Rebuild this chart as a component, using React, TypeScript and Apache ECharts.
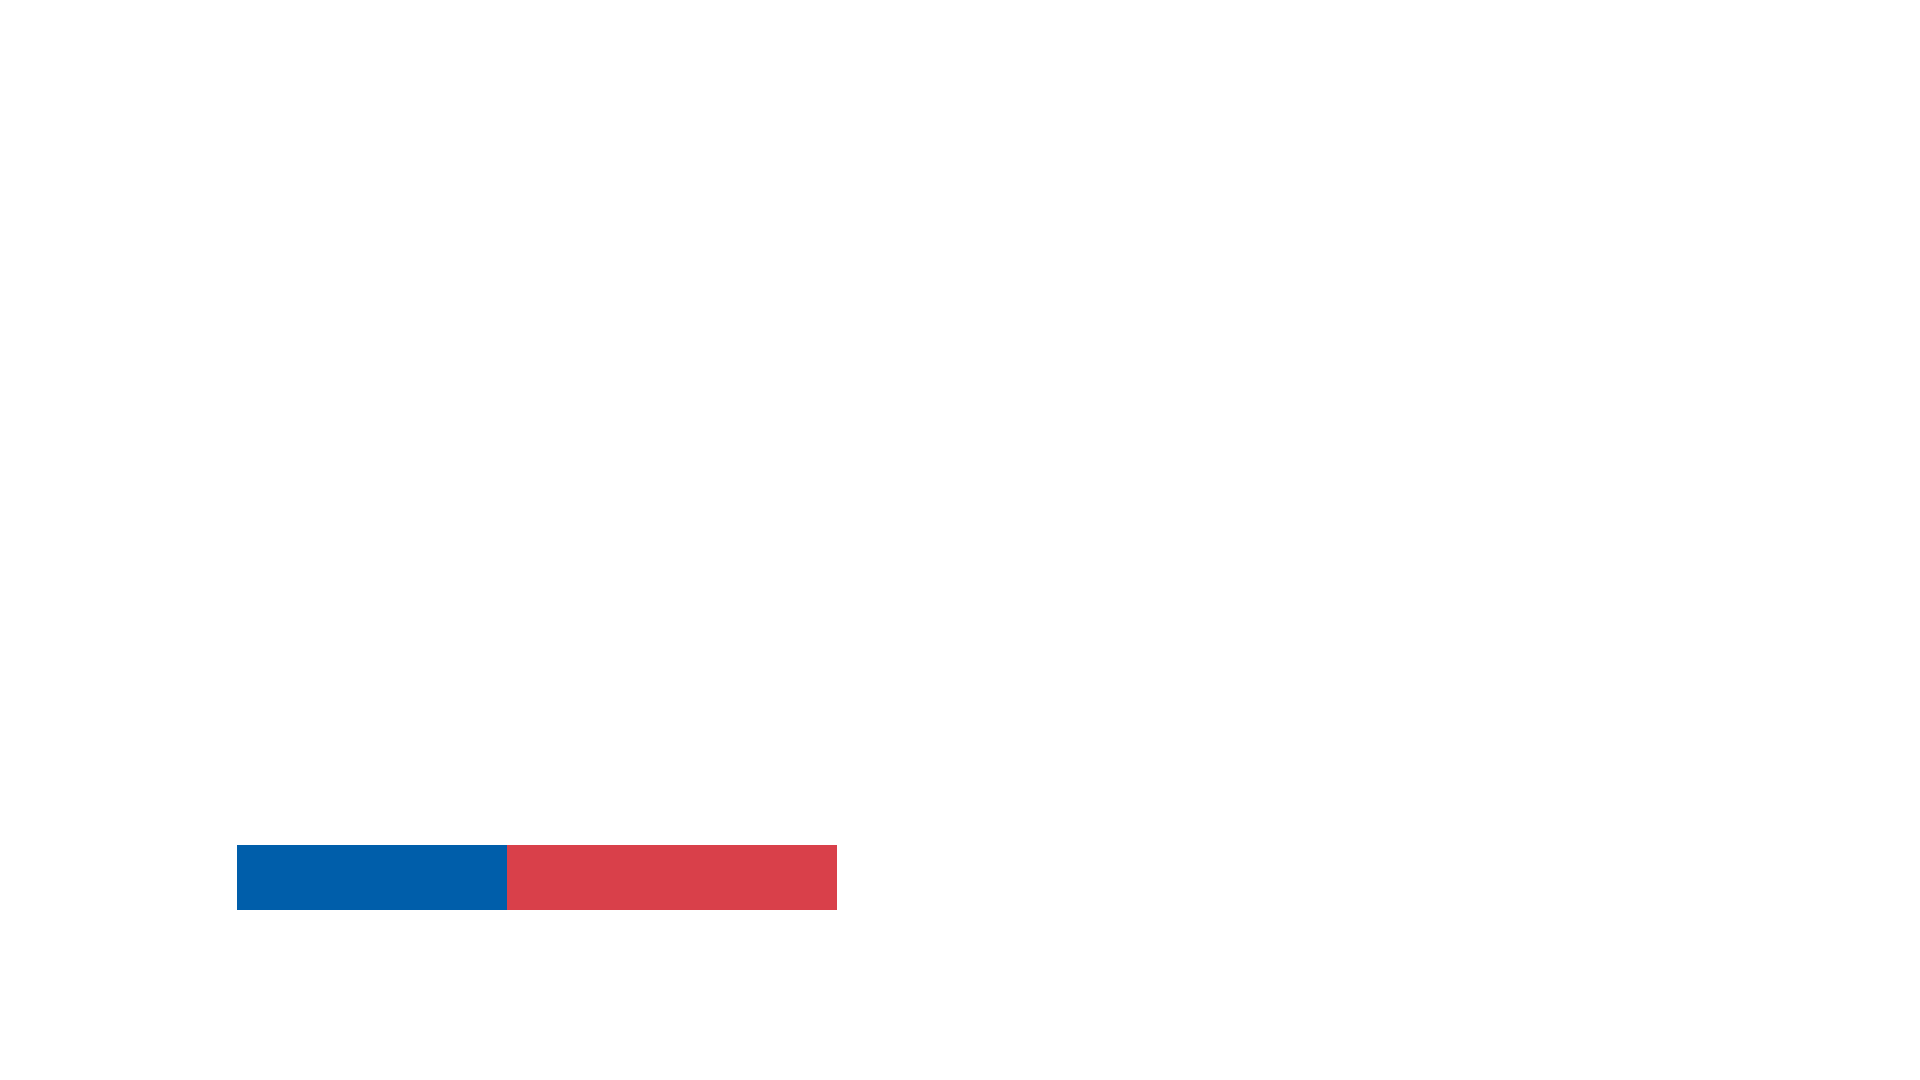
import { useEffect, useRef } from "react";
import * as echarts from "echarts";

const categories = [""];
const blueValues = [45];
const redValues = [55];

export default function App() {
  const chartRef = useRef<HTMLDivElement>(null);

  useEffect(() => {
    if (!chartRef.current) return;
    const chart = echarts.init(chartRef.current, null, { renderer: "svg" });
    chart.setOption({
      animation: false,
      grid: { left: 229, top: 837, width: 600, height: 65 },
      xAxis: { type: "value", min: 0, max: 100, show: false },
      yAxis: { type: "category", data: categories, show: false },
      series: [
        {
          name: "blue",
          type: "bar",
          stack: "total",
          barWidth: "100%",
          data: blueValues,
          itemStyle: { color: "#005EAA" },
        },
        {
          name: "red",
          type: "bar",
          stack: "total",
          barWidth: "100%",
          data: redValues,
          itemStyle: { color: "#D9404A" },
        },
      ],
    });
    return () => {
      chart.dispose();
    };
  }, []);

  return <div ref={chartRef} style={{ width: 1904, height: 1064 }} />;
}
